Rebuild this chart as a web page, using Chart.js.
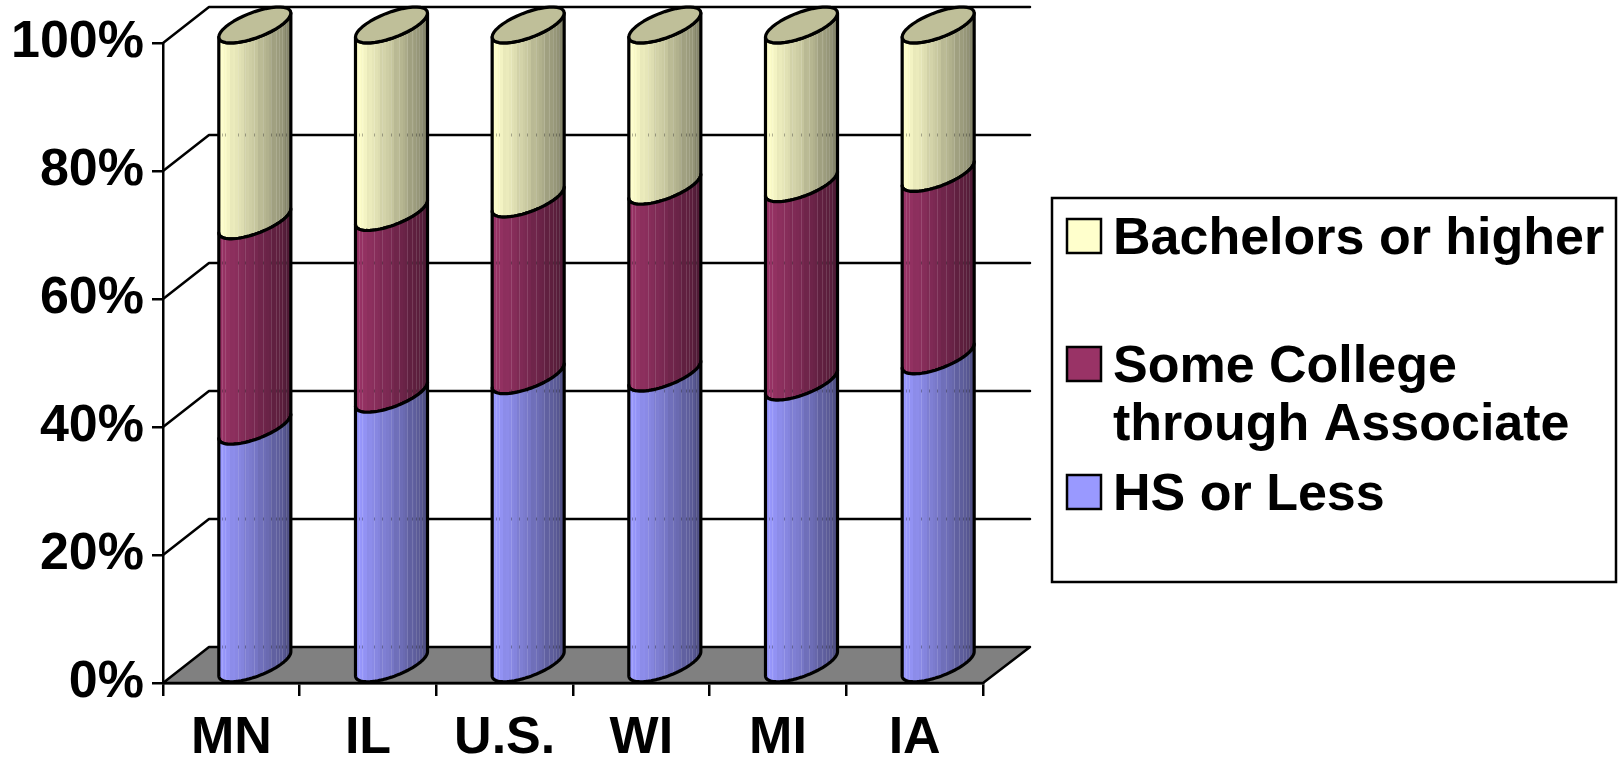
<!DOCTYPE html>
<html>
<head>
<meta charset="utf-8">
<title>Education levels by state</title>
<script src="https://cdn.jsdelivr.net/npm/chart.js@4/dist/chart.umd.min.js"></script>
<style>
  html, body { margin: 0; padding: 0; background: #fff; overflow: hidden; }
  canvas { display: block; }
</style>
</head>
<body>
<canvas id="chart" width="1620" height="759" style="width:1620px;height:759px"></canvas>
<script>
// Data (percent of total)
const states = ['MN', 'IL', 'U.S.', 'WI', 'MI', 'IA'];
const hsOrLess = [37.3, 42.3, 45.2, 45.6, 44.2, 48.3];
const someCollege = [32.1, 28.4, 27.6, 29.2, 31, 28.5];
const bachelors = [30.6, 29.3, 27.2, 25.2, 24.8, 23.2];
const yTicks = [0, 20, 40, 60, 80, 100];
const legendLines = [['Bachelors or higher'], ['Some College', 'through Associate'], ['HS or Less']];

// Look
const FAMILY = '"Liberation Sans", Arial, sans-serif';
const INK = '#000';
const LINE = 2.5;
const DEPTH_X = 47;
const DEPTH_Y = 36;
const FLOOR = '#808080';
const CAP = '#bfbf99';
const colors = { hs: [153, 153, 255], some: [153, 51, 102], ba: [255, 255, 204] };
const seams = [0.05, 0.09, 0.26, 0.37, 0.49, 0.61, 0.72, 0.79, 0.84, 0.88, 0.93];

const shade = (rgb, k) => `rgb(${rgb.map((c) => Math.round(c * k)).join(',')})`;

// Vertical banding across a cylinder, light on the left and dark on the right
const bandGradient = (ctx, x0, x1, rgb) => {
  const g = ctx.createLinearGradient(x0, 0, x1, 0);
  const bands = 26;
  for (let i = 0; i < bands; i++) {
    const k = 1 - 0.47 * Math.pow(i / (bands - 1), 1.1) - (i % 5 === 4 ? 0.025 : 0);
    g.addColorStop(i / bands, shade(rgb, k));
    g.addColorStop((i + 1) / bands, shade(rgb, k));
  }
  return g;
};

// One point on the slanted ellipse of a cylinder slice
const ellipsePoint = (cx, cy, a, t) => [
  cx + a * Math.cos(t),
  cy - (DEPTH_Y / 3) * Math.cos(t) + (DEPTH_Y * 0.372) * Math.sin(t),
];

const traceArc = (ctx, cx, cy, a, from, to, move) => {
  const steps = 40;
  for (let i = 0; i <= steps; i++) {
    const [x, y] = ellipsePoint(cx, cy, a, from + ((to - from) * i) / steps);
    if (i === 0 && move) ctx.moveTo(x, y);
    else ctx.lineTo(x, y);
  }
};

const drawSlice = (chart, bar, rgb, withCap) => {
  const { ctx, scales: { y: yScale } } = chart;
  const a = bar.width / 2;
  const cx = bar.x + DEPTH_X / 2;
  const top = bar.y - DEPTH_Y / 2;
  const bottom = bar.base - DEPTH_Y / 2;

  const outline = () => {
    ctx.beginPath();
    traceArc(ctx, cx, top, a, Math.PI, 0, true);
    traceArc(ctx, cx, bottom, a, 0, Math.PI, false);
    ctx.closePath();
  };

  outline();
  ctx.fillStyle = bandGradient(ctx, cx - a, cx + a, rgb);
  ctx.fill();

  // Thin light seams, and the wall lines faintly showing through them
  ctx.save();
  outline();
  ctx.clip();
  ctx.lineWidth = 1;
  seams.forEach((f) => {
    const sx = Math.round(cx - a + f * 2 * a) + 0.5;
    ctx.strokeStyle = 'rgba(255,255,255,0.13)';
    ctx.beginPath();
    ctx.moveTo(sx, top - 20);
    ctx.lineTo(sx, bar.base);
    ctx.stroke();
    ctx.strokeStyle = 'rgba(0,0,0,0.3)';
    yTicks.forEach((v) => {
      const gy = yScale.getPixelForValue(v) - DEPTH_Y;
      ctx.beginPath();
      ctx.moveTo(sx, gy - 1.5);
      ctx.lineTo(sx, gy + 1.5);
      ctx.stroke();
    });
  });
  ctx.restore();

  outline();
  ctx.strokeStyle = INK;
  ctx.lineWidth = 3.2;
  ctx.lineJoin = 'round';
  ctx.stroke();

  if (withCap) {
    ctx.beginPath();
    traceArc(ctx, cx, top, a, 0, Math.PI * 2, true);
    ctx.closePath();
    ctx.fillStyle = CAP;
    ctx.fill();
    ctx.stroke();
  }
};

// Back wall lines and the grey floor, hung on the library's scales
const wallsPlugin = {
  id: 'walls',
  beforeDatasetsDraw(chart) {
    const { ctx, scales: { x, y } } = chart;
    const left = x.left;
    const right = x.right;
    ctx.save();
    ctx.strokeStyle = INK;
    ctx.lineWidth = LINE;
    ctx.lineCap = 'round';
    ctx.lineJoin = 'round';

    const y0 = y.getPixelForValue(0);
    ctx.beginPath();
    ctx.moveTo(left, y0);
    ctx.lineTo(left + DEPTH_X - 1, y0 - DEPTH_Y);
    ctx.lineTo(right + DEPTH_X, y0 - DEPTH_Y);
    ctx.lineTo(right, y0);
    ctx.closePath();
    ctx.fillStyle = FLOOR;
    ctx.fill();
    ctx.stroke();

    yTicks.filter((v) => v > 0).forEach((v) => {
      const py = y.getPixelForValue(v);
      ctx.beginPath();
      ctx.moveTo(left, py);
      ctx.lineTo(left + DEPTH_X - 1, py - DEPTH_Y);
      ctx.lineTo(right + DEPTH_X, py - DEPTH_Y);
      ctx.stroke();
    });
    ctx.restore();
  },
  // Swap the flat bars for cylinders
  beforeDatasetDraw(chart, args) {
    const meta = chart.getDatasetMeta(args.index);
    const rgb = chart.data.datasets[args.index].rgb;
    const isTop = args.index === chart.data.datasets.length - 1;
    chart.ctx.save();
    meta.data.forEach((bar) => drawSlice(chart, bar, rgb, isTop));
    chart.ctx.restore();
    return false;
  },
};

// Legend box on the right
const legendPlugin = {
  id: 'boxLegend',
  afterDraw(chart) {
    const { ctx } = chart;
    const order = [2, 1, 0];
    const baselines = [254, 382, 510];
    ctx.save();
    ctx.lineWidth = LINE;
    ctx.strokeStyle = INK;
    ctx.strokeRect(1052, 198, 564, 384);
    ctx.font = `bold 52px ${FAMILY}`;
    ctx.textAlign = 'left';
    ctx.textBaseline = 'alphabetic';
    order.forEach((dsIndex, i) => {
      const base = baselines[i];
      ctx.fillStyle = shade(chart.data.datasets[dsIndex].rgb, 1);
      ctx.fillRect(1067, base - 35, 34, 34);
      ctx.strokeRect(1067, base - 35, 34, 34);
      ctx.fillStyle = INK;
      legendLines[i].forEach((line, j) => ctx.fillText(line, 1113, base + j * 58));
    });
    ctx.restore();
  },
};

new Chart(document.getElementById('chart'), {
  type: 'bar',
  data: {
    labels: states,
    datasets: [
      { label: 'HS or Less', data: hsOrLess, rgb: colors.hs, backgroundColor: shade(colors.hs, 1) },
      { label: 'Some College through Associate', data: someCollege, rgb: colors.some, backgroundColor: shade(colors.some, 1) },
      { label: 'Bachelors or higher', data: bachelors, rgb: colors.ba, backgroundColor: shade(colors.ba, 1) },
    ],
  },
  options: {
    responsive: false,
    devicePixelRatio: 1,
    animation: false,
    layout: { padding: { top: 43, right: 637, left: 0, bottom: 0 } },
    datasets: { bar: { categoryPercentage: 1, barPercentage: 0.527 } },
    plugins: { legend: { display: false }, tooltip: { enabled: false } },
    scales: {
      x: {
        stacked: true,
        afterFit: (s) => { s.height = 76; },
        grid: { drawOnChartArea: false, color: INK, lineWidth: LINE, tickLength: 13, offset: true },
        border: { color: INK, width: LINE },
        ticks: { color: INK, font: { family: FAMILY, size: 52, weight: 'bold' }, padding: 11, maxRotation: 0 },
      },
      y: {
        stacked: true,
        min: 0,
        max: 100,
        afterFit: (s) => { s.width = 163; },
        afterBuildTicks: (s) => { s.ticks = yTicks.map((value) => ({ value })); },
        grid: { drawOnChartArea: false, color: INK, lineWidth: LINE, tickLength: 11 },
        border: { color: INK, width: LINE },
        ticks: {
          color: INK,
          font: { family: FAMILY, size: 52, weight: 'bold' },
          padding: 8,
          callback: (v) => `${v}%`,
        },
      },
    },
  },
  plugins: [wallsPlugin, legendPlugin],
});
</script>
</body>
</html>
